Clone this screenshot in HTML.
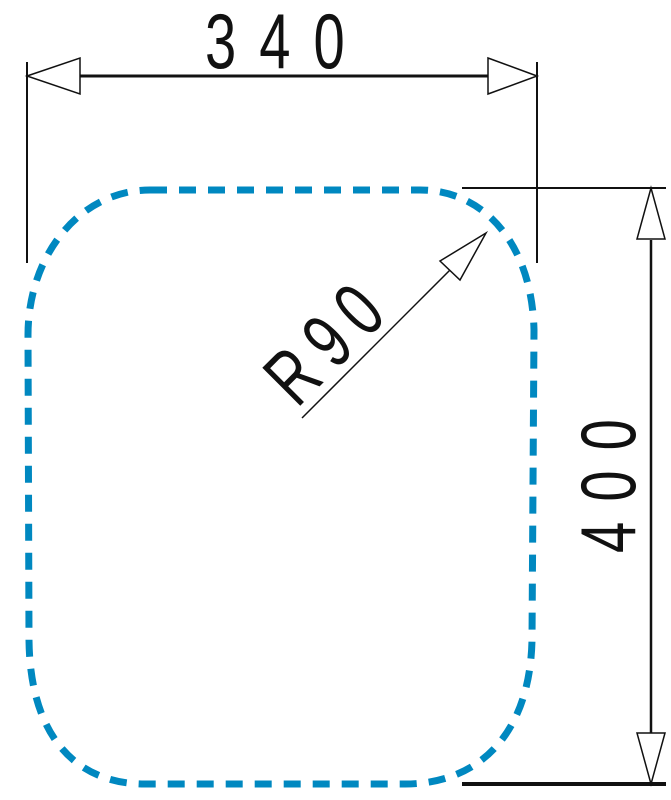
<!DOCTYPE html>
<html><head><meta charset="utf-8"><style>html,body{margin:0;padding:0;background:#fff}svg{display:block}</style></head>
<body>
<svg width="671" height="800" viewBox="0 0 671 800" xmlns="http://www.w3.org/2000/svg">
<path d="M150,190 L420,190 C485,190 532,245 534,330 L532,640 C530,735 478,784 405,784 L145,784 C75,784 30,735 29,640 L28,335 C28,255 80,190 150,190 Z" fill="none" stroke="#0088c0" stroke-width="7" stroke-dasharray="17 12"/>
<g stroke="#111" fill="none" stroke-width="2">
<line x1="27" y1="62" x2="27" y2="263"/>
<line x1="537" y1="62" x2="537" y2="263"/>
<line x1="78" y1="76" x2="488" y2="76" stroke-width="3"/>
<polygon points="27,76 80,58 80,94" fill="#fff" stroke-width="1.5"/>
<polygon points="537,76 488,58 488,94" fill="#fff" stroke-width="1.5"/>
<line x1="462" y1="188" x2="666" y2="188"/>
<line x1="462" y1="784" x2="666" y2="784" stroke-width="4"/>
<line x1="651" y1="240" x2="651" y2="735" stroke-width="2.5"/>
<polygon points="651,188 637,239 665,239" fill="#fff" stroke-width="1.5"/>
<polygon points="651,784 637,733 665,733" fill="#fff" stroke-width="1.5"/>
<line x1="302" y1="418" x2="455" y2="265" stroke-width="1.5"/>
<polygon points="486,233 440,261 460,280" fill="#fff" stroke-width="1.5"/>
</g>
<g font-family="Liberation Sans, sans-serif" font-size="78" fill="#111">
<g transform="translate(205,68) scale(0.72,1)"><text x="0" y="0" textLength="194" lengthAdjust="spacing">340</text></g>
<g transform="translate(635,553) rotate(-90) scale(0.72,1)"><text x="0" y="0" textLength="186" lengthAdjust="spacing">400</text></g>
<g transform="translate(297,409) rotate(-45) scale(0.72,1)"><text x="0" y="0" textLength="180" lengthAdjust="spacing">R90</text></g>
</g>
</svg>
</body></html>
